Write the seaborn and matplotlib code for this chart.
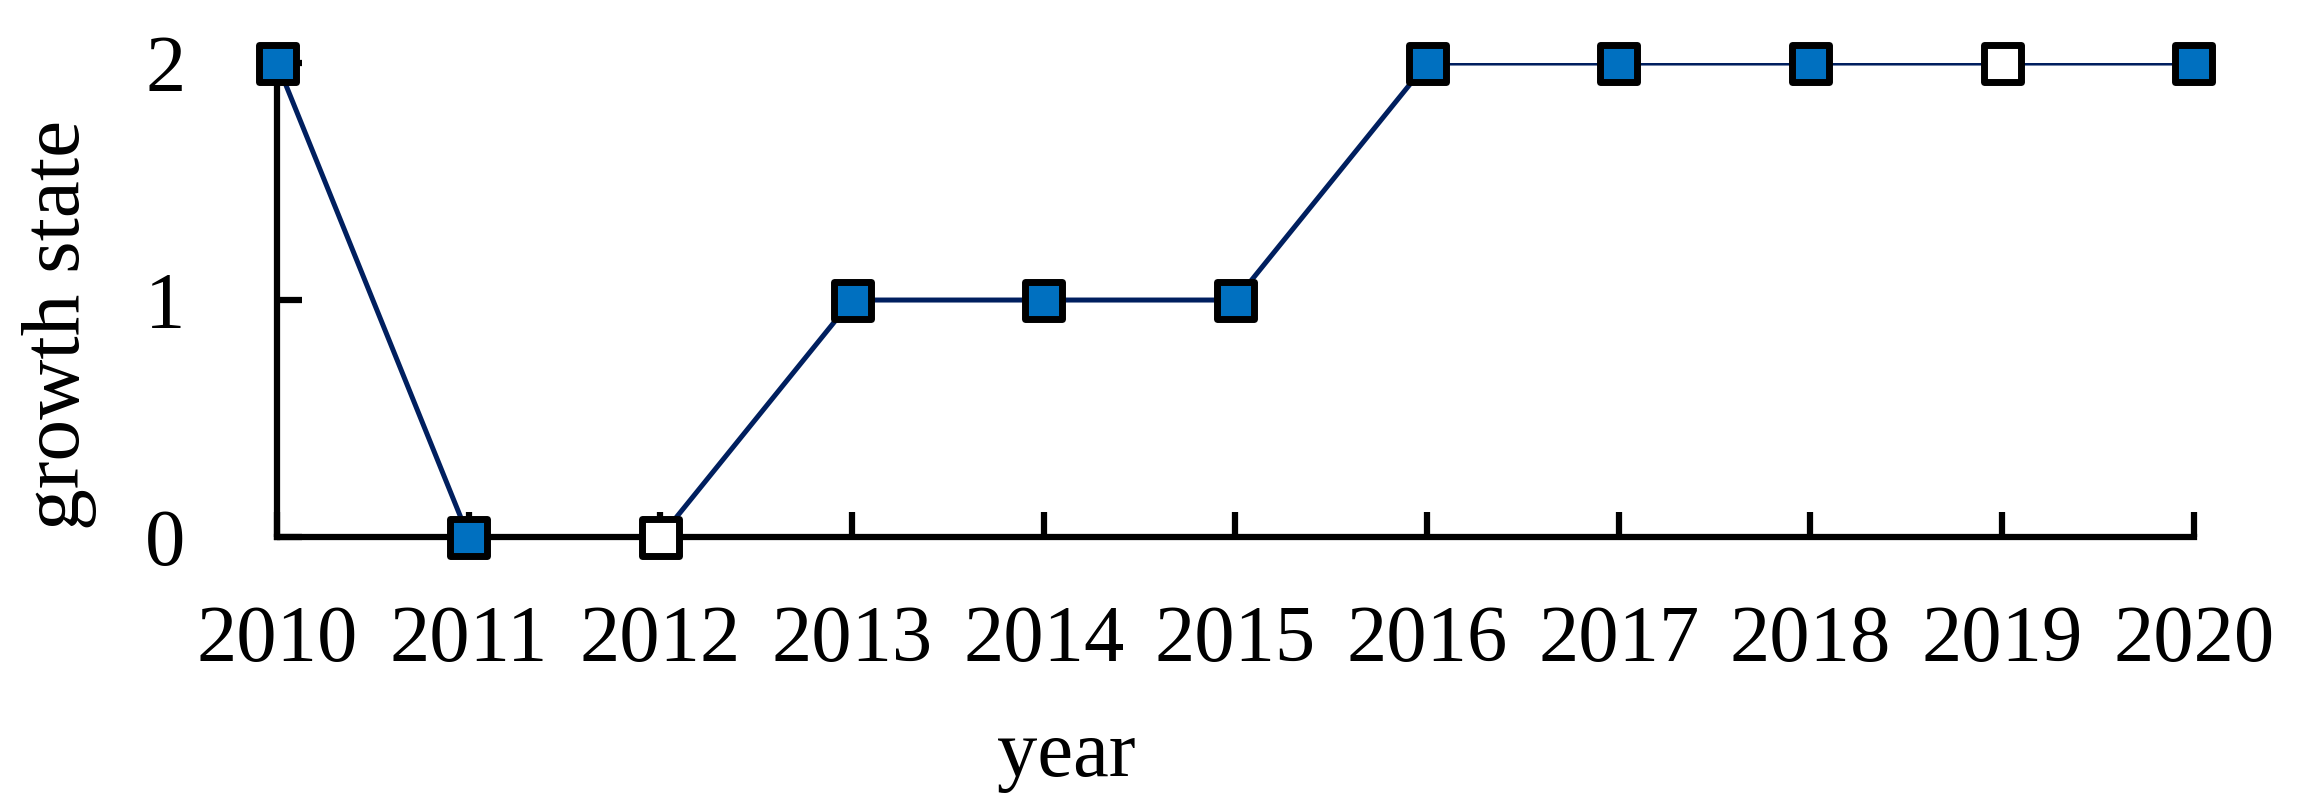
import pandas as pd
import seaborn as sns
import matplotlib.pyplot as plt

years = [2010, 2011, 2012, 2013, 2014, 2015, 2016, 2017, 2018, 2019, 2020]
state = [2, 0, 0, 1, 1, 1, 2, 2, 2, 2, 2]
hollow_years = [2012, 2019]

df = pd.DataFrame({'year': years, 'state': state})
df['kind'] = ['open' if y in hollow_years else 'filled' for y in years]

sns.set_style('white')
plt.rcParams['font.family'] = ['Liberation Serif', 'DejaVu Serif']
plt.rcParams['text.color'] = 'black'
plt.rcParams['axes.labelcolor'] = 'black'
plt.rcParams['xtick.color'] = 'black'
plt.rcParams['ytick.color'] = 'black'

fig = plt.figure(figsize=(22.97, 8.02), dpi=100)
ax = fig.add_axes([0.1206, 0.3304, 0.8345, 0.591])

sns.lineplot(data=df, x='year', y='state', color='#001f5f', linewidth=3.6, ax=ax)
sns.scatterplot(data=df, x='year', y='state', hue='kind', marker='s', s=710,
                palette={'filled': '#0070c0', 'open': 'white'},
                edgecolor='black', linewidth=5, legend=False, zorder=5,
                clip_on=False, ax=ax)

ax.set_xlim(2010, 2020)
ax.set_ylim(0, 2)
ax.set_xticks(years)
ax.set_yticks([0, 1, 2])
sns.despine(ax=ax)
for s in ['left', 'bottom']:
    ax.spines[s].set_linewidth(4.5)
    ax.spines[s].set_color('black')

ax.tick_params(axis='x', bottom=True, direction='in', length=18, width=4.5, pad=49, labelsize=58)
ax.tick_params(axis='y', left=True, direction='in', length=18, width=4.5, pad=66, labelsize=58)
ax.set_xlabel('year', fontsize=58)
ax.set_ylabel('growth state', fontsize=60)
ax.xaxis.set_label_coords(0.412, -0.385)
ax.yaxis.set_label_coords(-0.094, 0.447)

plt.savefig('out.png', dpi=100)
plt.close()
